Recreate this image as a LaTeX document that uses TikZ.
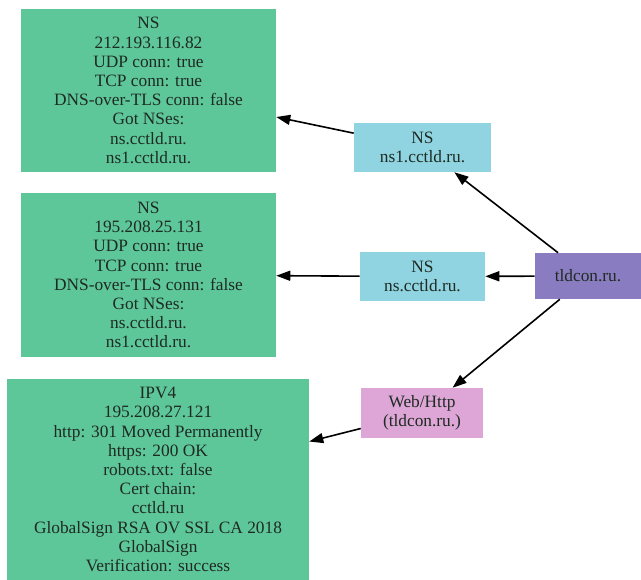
\documentclass[tikz,border=0pt]{standalone}
\usepackage{fontspec}
\setmainfont{Liberation Serif}
\usetikzlibrary{arrows.meta}

\definecolor{hostgreen}{HTML}{5EC79A}
\definecolor{nscyan}{HTML}{8FD4E0}
\definecolor{zonepurple}{HTML}{8A7CC0}
\definecolor{webpink}{HTML}{DDA6D6}
\definecolor{inktext}{HTML}{1E2A22}

\tikzset{
  box/.style={rectangle, inner sep=0pt, align=center, text=inktext,
    font=\fontsize{13}{14.4}\selectfont},
  hostbox/.style={box, fill=hostgreen},
  nsbox/.style={box, fill=nscyan},
  zonebox/.style={box, fill=zonepurple},
  webbox/.style={box, fill=webpink},
  link/.style={line width=1.2pt, draw=black,
    -{Triangle[length=10.5pt, width=7.5pt]}},
}

\begin{document}
\begin{tikzpicture}[x=0.75pt, y=-0.75pt]
  \useasboundingbox (0,0) rectangle (641,579);

  % name-server result boxes
  \node[hostbox, minimum width={255*0.75pt}, minimum height={163*0.75pt}] (nsA) at (148.5,90.5)
    {NS\\212.193.116.82\\UDP conn: true\\TCP conn: true\\DNS-over-TLS conn: false\\Got NSes:\\ns.cctld.ru.\\ns1.cctld.ru.};
  \node[hostbox, minimum width={255*0.75pt}, minimum height={164*0.75pt}] (nsB) at (148.5,275)
    {NS\\195.208.25.131\\UDP conn: true\\TCP conn: true\\DNS-over-TLS conn: false\\Got NSes:\\ns.cctld.ru.\\ns1.cctld.ru.};

  % web host result box
  \node[hostbox, minimum width={302*0.75pt}, minimum height={202*0.75pt}] (ipv4) at (158,479.5)
    {IPV4\\195.208.27.121\\http: 301 Moved Permanently\\https: 200 OK\\robots.txt: false\\Cert chain:\\cctld.ru\\GlobalSign RSA OV SSL CA 2018\\GlobalSign\\Verification: success};

  % middle column
  \node[nsbox, minimum width={137*0.75pt}, minimum height={49*0.75pt}] (ns1) at (422.5,147.5)
    {NS\\ns1.cctld.ru.};
  \node[nsbox, minimum width={125*0.75pt}, minimum height={49*0.75pt}] (ns) at (422.5,276.5)
    {NS\\ns.cctld.ru.};
  \node[webbox, minimum width={122*0.75pt}, minimum height={50*0.75pt}] (web) at (422,413)
    {Web/Http\\(tldcon.ru.)};

  % domain root
  \node[zonebox, minimum width={106*0.75pt}, minimum height={46*0.75pt}] (tld) at (588,276)
    {tldcon.ru.};

  % connectors
  \draw[link] (tld) -- (ns1);
  \draw[link] (tld) -- (ns);
  \draw[link] (tld) -- (web);
  \draw[link] (ns1) -- (nsA);
  \draw[link] (ns) -- (nsB);
  \draw[link] (web) -- (ipv4);
\end{tikzpicture}
\end{document}
